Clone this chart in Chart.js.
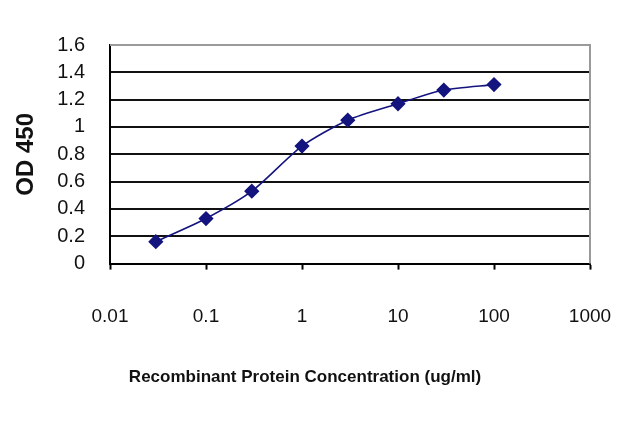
<!DOCTYPE html>
<html>
<head>
<meta charset="utf-8">
<script src="https://cdn.jsdelivr.net/npm/chart.js@4"></script>
<style>
  html, body { margin: 0; padding: 0; background: #fff; }
  #wrap { width: 640px; height: 427px; }
</style>
</head>
<body>
<div id="wrap"><canvas id="odChart"></canvas></div>
<script>
// Data
const concentrations = [0.03, 0.1, 0.3, 1, 3, 10, 30, 100];
const odValues = [0.16, 0.33, 0.53, 0.86, 1.05, 1.17, 1.27, 1.31];
const xTickValues = [0.01, 0.1, 1, 10, 100, 1000];
const yTickValues = [0, 0.2, 0.4, 0.6, 0.8, 1, 1.2, 1.4, 1.6];

const narrowFont = "'Liberation Sans Narrow', 'Liberation Sans', Arial, sans-serif";

// Gray frame on the top and right of the plot area
const frame = {
    id: 'frame',
    afterDraw(chart) {
        const { ctx, chartArea: a } = chart;
        ctx.save();
        ctx.strokeStyle = '#9a9a9a';
        ctx.lineWidth = 2;
        ctx.beginPath();
        ctx.moveTo(a.left, a.top);
        ctx.lineTo(a.right, a.top);
        ctx.lineTo(a.right, a.bottom);
        ctx.stroke();
        ctx.restore();
    }
};

const odChart = document.getElementById('odChart');
new Chart(odChart, {
    type: 'line',
    data: {
        datasets: [{
            data: concentrations.map((c, i) => ({ x: c, y: odValues[i] })),
            borderColor: '#14147f',
            backgroundColor: '#14147f',
            borderWidth: 1.6,
            pointStyle: 'rectRot',
            pointRadius: 6.5,
            pointHoverRadius: 6.5,
            tension: 0.25
        }]
    },
    options: {
        responsive: true,
        maintainAspectRatio: false,
        animation: false,
        layout: { padding: { left: 0, right: 30, top: 45, bottom: 37 } },
        plugins: {
            legend: { display: false },
            tooltip: { enabled: false },
            title: {
                display: true,
                position: 'bottom',
                text: 'Recombinant Protein Concentration (ug/ml)',
                color: '#111',
                font: { family: narrowFont, size: 17, weight: 'bold' },
                padding: { top: 0, bottom: 2 }
            }
        },
        scales: {
            x: {
                type: 'logarithmic',
                min: 0.01,
                max: 1000,
                afterBuildTicks: scale => {
                    scale.ticks = xTickValues.map(v => ({ value: v }));
                },
                afterFit: scale => {
                    scale.height = 104;
                    scale.paddingRight = 0;
                },
                border: { color: '#000', width: 2 },
                grid: {
                    drawOnChartArea: false,
                    drawTicks: true,
                    tickLength: 6,
                    tickWidth: 2,
                    color: '#000'
                },
                ticks: {
                    autoSkip: false,
                    maxRotation: 0,
                    padding: 36,
                    color: '#111',
                    font: { family: narrowFont, size: 19 },
                    callback: (v) => String(v)
                }
            },
            y: {
                min: 0,
                max: 1.6,
                afterBuildTicks: scale => {
                    scale.ticks = yTickValues.map(v => ({ value: v }));
                },
                afterFit: scale => { scale.width = 110; },
                border: { color: '#000', width: 2 },
                grid: {
                    drawTicks: false,
                    lineWidth: 2,
                    color: ctx => (ctx.tick && ctx.tick.value === 1.6) ? '#9a9a9a' : '#111'
                },
                ticks: {
                    padding: 25,
                    color: '#111',
                    font: { family: narrowFont, size: 20 },
                    callback: (v) => String(v)
                },
                title: {
                    display: true,
                    text: 'OD 450',
                    color: '#111',
                    font: { family: narrowFont, size: 24, weight: 'bold' },
                    padding: { top: 12, bottom: 0 }
                }
            },
            // empty right-hand spacer so the title centres like the original
            yRight: {
                position: 'right',
                display: true,
                afterFit: scale => { scale.width = 20; },
                border: { display: false },
                grid: { display: false },
                ticks: { display: false }
            }
        }
    },
    plugins: [frame]
});
</script>
</body>
</html>
